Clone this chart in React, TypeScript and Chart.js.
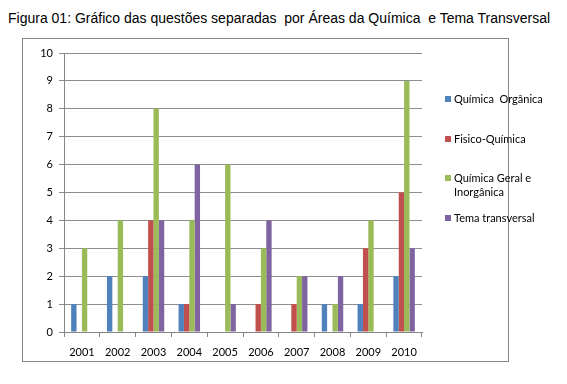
import React, { useEffect, useRef } from "react";
import { Chart, registerables } from "chart.js";

Chart.register(...registerables);

const title = "Figura 01: Gráfico das questões separadas  por Áreas da Química  e Tema Transversal";
const years = ["2001", "2002", "2003", "2004", "2005", "2006", "2007", "2008", "2009", "2010"];
const seriesNames = ["Química  Orgânica", "Fisico-Química", "Química Geral e Inorgânica", "Tema transversal"];
const legendLines = [["Química  Orgânica"], ["Fisico-Química"], ["Química Geral e", "Inorgânica"], ["Tema transversal"]];
const organica = [1, 2, 2, 1, 0, 0, 0, 1, 1, 2];
const fisico = [0, 0, 4, 1, 0, 1, 1, 0, 3, 5];
const geral = [3, 4, 8, 4, 6, 3, 2, 1, 4, 9];
const tema = [0, 0, 4, 6, 1, 4, 2, 2, 0, 3];
const colors = ["#4F81BD", "#C0504D", "#9BBB59", "#8064A2"];
const yTicks = [0, 1, 2, 3, 4, 5, 6, 7, 8, 9, 10];

export default function App() {
  const ref = useRef<HTMLCanvasElement>(null);
  useEffect(() => {
    if (!ref.current) return;
    const values = [organica, fisico, geral, tema];
    const chart = new Chart(ref.current, {
      type: "bar",
      data: {
        labels: years,
        datasets: values.map((v, i) => ({
          label: seriesNames[i],
          data: v,
          backgroundColor: colors[i],
          borderWidth: 0,
          categoryPercentage: 0.6,
          barPercentage: 1.0,
        })),
      },
      options: {
        animation: false,
        responsive: false,
        maintainAspectRatio: false,
        layout: { padding: { left: 0, right: 87, top: 15, bottom: 0 } },
        plugins: { legend: { display: false }, tooltip: { enabled: false }, title: { display: false } },
        scales: {
          x: {
            offset: true,
            grid: { offset: true, drawOnChartArea: false, drawTicks: true, tickLength: 5, color: "#868686" },
            border: { color: "#868686" },
            ticks: { color: "#000", font: { family: "Lato", size: 11 }, padding: 9, maxRotation: 0 },
            afterFit: (s: any) => { s.height = 30; },
          },
          y: {
            min: 0,
            max: 10,
            afterBuildTicks: (s: any) => { s.ticks = yTicks.map((v) => ({ value: v })); },
            grid: { color: "#8E8E8E", drawTicks: true, tickLength: 5 },
            border: { color: "#868686" },
            ticks: { color: "#000", font: { family: "Lato", size: 11 }, padding: 6 },
            afterFit: (s: any) => { s.width = 42; },
          },
        },
      },
    });
    return () => chart.destroy();
  }, []);

  return (
    <div style={{ position: "relative", width: 551, height: 368 }}>
      <div style={{ position: "absolute", left: 0, top: 2, width: 560, fontFamily: "Arial, 'Liberation Sans', sans-serif", fontSize: 14, color: "#000", whiteSpace: "pre" }}>
        {title}
      </div>
      <div style={{ position: "absolute", left: 14, top: 30, width: 487, height: 324, border: "1px solid #868686", boxSizing: "border-box" }} />
      <canvas ref={ref} width={487} height={324} style={{ position: "absolute", left: 14, top: 30, width: 487, height: 324 }} />
      <div style={{ position: "absolute", left: 437, top: 84, fontFamily: "Lato, sans-serif", fontSize: 11, color: "#000" }}>
        {legendLines.map((lines, i) => (
          <div key={i} style={{ position: "absolute", top: [0, 40, 79, 119][i], left: 0, width: 120 }}>
            {lines.map((t, j) => (
              <div key={j} style={{ position: "relative", height: 14, lineHeight: "14px", paddingLeft: 9, whiteSpace: "pre" }}>
                {j === 0 && <span style={{ position: "absolute", left: 0, top: 4, width: 6, height: 6, background: colors[i] }} />}
                {t}
              </div>
            ))}
          </div>
        ))}
      </div>
    </div>
  );
}
